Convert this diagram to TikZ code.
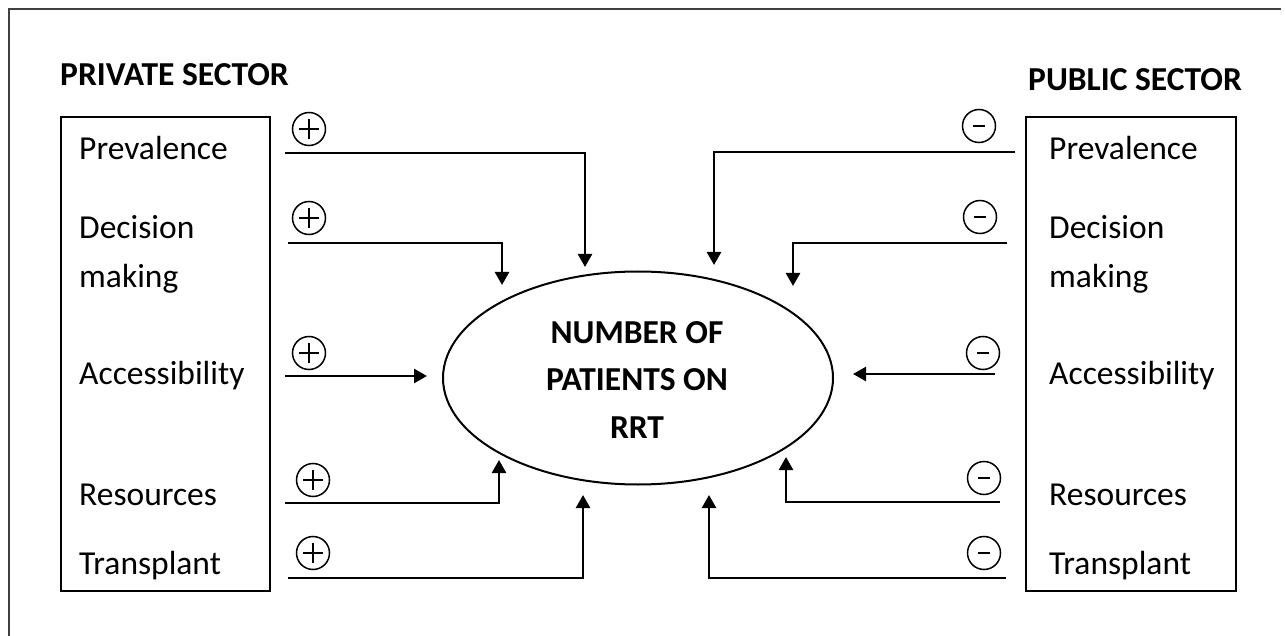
\documentclass[tikz,border=0pt]{standalone}
\usepackage{fontspec}
\setmainfont{Carlito}
\usetikzlibrary{arrows.meta,shapes.geometric}
\begin{document}
\begin{tikzpicture}[x=1pt,y=-1pt,
  lab/.style={font=\fontsize{33.5}{47.5}\selectfont, inner sep=0pt, anchor=base west},
  head/.style={font=\fontsize{33.5}{40}\selectfont\bfseries, inner sep=0pt, anchor=base west},
  sector/.style={draw, line width=2.6pt},
  flow/.style={line width=2.5pt, -{Triangle[length=13pt,width=14pt]}},
  sign/.style={circle, draw, line width=1.5pt, minimum size=33pt, inner sep=0pt},
  plus/.style={sign, path picture={
     \draw[line width=2pt] ([xshift=-10pt]path picture bounding box.center) -- ([xshift=10pt]path picture bounding box.center);
     \draw[line width=2pt] ([yshift=-10pt]path picture bounding box.center) -- ([yshift=10pt]path picture bounding box.center);}},
  minus/.style={sign, path picture={
     \draw[line width=2.6pt] ([xshift=-6pt]path picture bounding box.center) -- ([xshift=6pt]path picture bounding box.center);}}
]
\useasboundingbox (0,0) rectangle (1285,636);

% outer frame
\draw[line width=2pt, black!75] (9,640) -- (9,9) -- (1281,9);

% headings
\node[head] (privh) at (60,86) {PRIVATE SECTOR};
\node[head] (pubh) at (1028,91) {PUBLIC SECTOR};

% sector boxes
\node[sector, minimum width=209pt, minimum height=474pt, inner sep=0pt] (privbox) at (165.5,354) {};
\node[sector, minimum width=210pt, minimum height=474pt, inner sep=0pt] (pubbox) at (1131,354) {};

% private sector factors
\node[lab] (lprev) at (79,160) {Prevalence};
\node[lab] (ldec)  at (79,239) {Decision};
\node[lab] (lmak)  at (79,288) {making};
\node[lab] (lacc)  at (79,384) {Accessibility};
\node[lab] (lres)  at (79,505) {Resources};
\node[lab] (ltra)  at (79,574) {Transplant};

% public sector factors
\node[lab] (rprev) at (1049,160) {Prevalence};
\node[lab] (rdec)  at (1049,239) {Decision};
\node[lab] (rmak)  at (1049,288) {making};
\node[lab] (racc)  at (1049,384) {Accessibility};
\node[lab] (rres)  at (1049,505) {Resources};
\node[lab] (rtra)  at (1049,574) {Transplant};

% central outcome
\node[ellipse, draw, line width=2pt, minimum width=390pt, minimum height=213pt, inner sep=0pt] (rrt) at (638,378) {};
\node[font=\fontsize{33.5}{47.5}\selectfont\bfseries, align=center, inner sep=0pt] (rrttext) at (637,380) {NUMBER OF\\PATIENTS ON\\RRT};

% signs
\node[plus] (sp1) at (309,129) {};
\node[plus] (sp2) at (309,218) {};
\node[plus] (sp3) at (309,353) {};
\node[plus] (sp4) at (313,480) {};
\node[plus] (sp5) at (313,553) {};
\node[minus] (sm1) at (979,126) {};
\node[minus] (sm2) at (980,217) {};
\node[minus] (sm3) at (983,353) {};
\node[minus] (sm4) at (984,478) {};
\node[minus] (sm5) at (984,553) {};

% connector ends
\coordinate (p1s) at (285,153); \coordinate (p1e) at (585,267);
\coordinate (p2s) at (288,243); \coordinate (p2e) at (502,285);
\coordinate (p3s) at (285,376); \coordinate (p3e) at (427,376);
\coordinate (p4s) at (285,503); \coordinate (p4e) at (499,460);
\coordinate (p5s) at (288,578); \coordinate (p5e) at (583,495);
\coordinate (m1s) at (1015,152); \coordinate (m1e) at (714,265);
\coordinate (m2s) at (1007,243); \coordinate (m2e) at (793,286);
\coordinate (m3s) at (995,374);  \coordinate (m3e) at (853,374);
\coordinate (m4s) at (1000,502); \coordinate (m4e) at (786,457);
\coordinate (m5s) at (1006,578); \coordinate (m5e) at (709,495);

% connectors
\draw[flow] (p1s) -| (p1e);
\draw[flow] (p2s) -| (p2e);
\draw[flow] (p3s) -- (p3e);
\draw[flow] (p4s) -| (p4e);
\draw[flow] (p5s) -| (p5e);
\draw[flow] (m1s) -| (m1e);
\draw[flow] (m2s) -| (m2e);
\draw[flow] (m3s) -- (m3e);
\draw[flow] (m4s) -| (m4e);
\draw[flow] (m5s) -| (m5e);
\end{tikzpicture}
\end{document}
